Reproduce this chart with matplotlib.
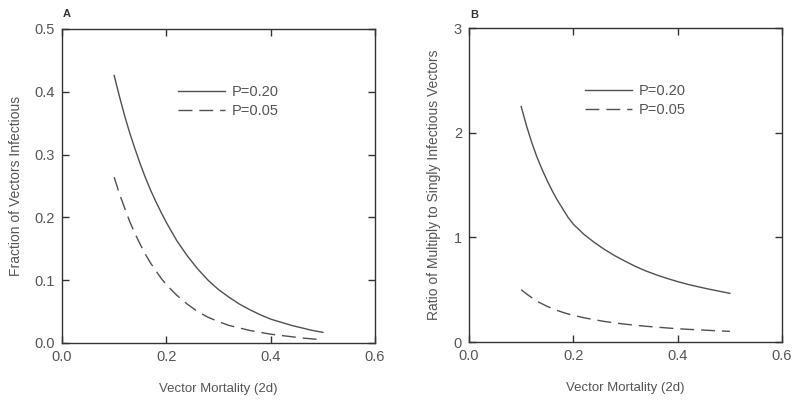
import matplotlib
matplotlib.use("Agg")
import matplotlib.pyplot as plt

# Shared x values (vector mortality)
mortality = [0.10, 0.11, 0.12, 0.13, 0.14, 0.15, 0.16, 0.17, 0.18, 0.19, 0.20,
             0.22, 0.24, 0.26, 0.28, 0.30, 0.32, 0.34, 0.36, 0.38, 0.40,
             0.42, 0.44, 0.46, 0.48, 0.50]

# Panel A: fraction of vectors infectious
frac_p20 = [0.426, 0.393, 0.362, 0.334, 0.309, 0.285, 0.263, 0.243, 0.225, 0.208, 0.192,
            0.163, 0.139, 0.118, 0.100, 0.085, 0.073, 0.062, 0.053, 0.045, 0.038,
            0.033, 0.028, 0.024, 0.020, 0.017]
frac_p05 = [0.264, 0.238, 0.215, 0.193, 0.174, 0.157, 0.141, 0.127, 0.115, 0.103, 0.093,
            0.076, 0.062, 0.050, 0.041, 0.034, 0.028, 0.024, 0.020, 0.017, 0.014,
            0.012, 0.010, 0.008, 0.0065, 0.005]

# Panel B: ratio of multiply to singly infectious vectors
ratio_p20 = [2.25, 2.07, 1.91, 1.77, 1.65, 1.54, 1.44, 1.35, 1.27, 1.19, 1.125,
             1.03, 0.952, 0.883, 0.823, 0.77, 0.72, 0.677, 0.64, 0.607, 0.577,
             0.55, 0.527, 0.505, 0.485, 0.465]
ratio_p05 = [0.50, 0.46, 0.425, 0.39, 0.365, 0.34, 0.32, 0.30, 0.283, 0.268, 0.255,
             0.232, 0.213, 0.196, 0.182, 0.170, 0.159, 0.150, 0.142, 0.134, 0.127,
             0.121, 0.116, 0.111, 0.106, 0.102]

xticks = [0.0, 0.2, 0.4, 0.6]
yticks_a = [0.0, 0.1, 0.2, 0.3, 0.4, 0.5]
yticks_b = [0, 1, 2, 3]
series_labels = ['P=0.20', 'P=0.05']

plt.rcParams['font.family'] = ['Liberation Sans', 'DejaVu Sans']
txt = '#555555'
line_c = '#505050'
dash = (0, (10, 5))

fig = plt.figure(figsize=(8.0, 4.01), dpi=100)
W, H = 800, 401
axA = fig.add_axes([62 / W, 1 - 343 / H, 313 / W, 314 / H])
axB = fig.add_axes([469 / W, 1 - 342 / H, 313 / W, 314 / H])

def style(ax):
    ax.tick_params(direction='in', length=5, width=1.0, top=True, right=True,
                   colors='#333333', labelcolor=txt, labelsize=10.5, pad=5)
    for s in ax.spines.values():
        s.set_color('#333333')
        s.set_linewidth(1.0)

def legend(ax):
    ax.legend(loc='upper left', bbox_to_anchor=(0.33, 0.862), frameon=False,
              fontsize=10.5, handlelength=3.2, handletextpad=0.45, labelspacing=0.3,
              labelcolor=txt)

axA.plot(mortality, frac_p20, color=line_c, lw=1.0, label=series_labels[0])
axA.plot(mortality, frac_p05, color=line_c, lw=1.0, ls=dash, label=series_labels[1])
axA.set_xlim(0, 0.6)
axA.set_ylim(0, 0.5)
axA.set_xticks(xticks)
axA.set_xticklabels(['%.1f' % v for v in xticks])
axA.set_yticks(yticks_a)
axA.set_yticklabels(['%.1f' % v for v in yticks_a])
axA.set_xlabel('Vector Mortality (2d)', fontsize=9.5, color=txt, labelpad=14)
axA.set_ylabel('Fraction of Vectors Infectious', fontsize=10, color=txt, labelpad=8)
style(axA)
legend(axA)
fig.text(67 / W, 1 - 14 / H, 'A', fontsize=8, fontweight='bold', color='#333333',
         ha='center', va='center')

axB.plot(mortality, ratio_p20, color=line_c, lw=1.0, label=series_labels[0])
axB.plot(mortality, ratio_p05, color=line_c, lw=1.0, ls=dash, label=series_labels[1])
axB.set_xlim(0, 0.6)
axB.set_ylim(0, 3)
axB.set_xticks(xticks)
axB.set_xticklabels(['%.1f' % v for v in xticks])
axB.set_yticks(yticks_b)
axB.set_yticklabels([str(v) for v in yticks_b])
axB.set_xlabel('Vector Mortality (2d)', fontsize=9.5, color=txt, labelpad=14)
axB.set_ylabel('Ratio of Multiply to Singly Infectious Vectors', fontsize=10,
               color=txt, labelpad=9)
style(axB)
legend(axB)
fig.text(474 / W, 1 - 15 / H, 'B', fontsize=8, fontweight='bold', color='#333333',
         ha='center', va='center')

fig.savefig('out.png', dpi=100)
